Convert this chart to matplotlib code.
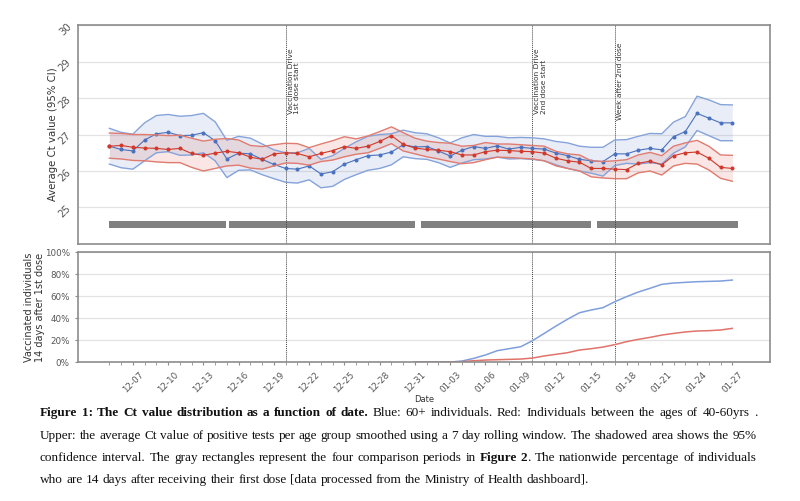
import numpy as np
import pandas as pd
import matplotlib
matplotlib.use("Agg")
import matplotlib.pyplot as plt
import matplotlib.dates as mdates
from matplotlib.ticker import PercentFormatter

# daily smoothed Ct values, 60+ (blue) and 40-60 (red)
dates = pd.date_range("2020-12-05", "2021-01-27", freq="D")

old_mean = [26.68, 26.59, 26.55, 26.85, 27.02, 27.06, 26.97, 26.98, 27.05, 26.83,
            26.33, 26.49, 26.47, 26.32, 26.18, 26.07, 26.05, 26.14, 25.92, 25.98,
            26.19, 26.31, 26.42, 26.44, 26.52, 26.72, 26.66, 26.67, 26.55, 26.41,
            26.57, 26.67, 26.62, 26.69, 26.60, 26.65, 26.62, 26.60, 26.49, 26.42,
            26.32, 26.28, 26.26, 26.47, 26.47, 26.57, 26.62, 26.58, 26.94, 27.08,
            27.58, 27.45, 27.32, 27.32]
old_hi = [27.17, 27.06, 27.01, 27.32, 27.52, 27.55, 27.50, 27.52, 27.58, 27.35,
          26.84, 26.95, 26.90, 26.74, 26.58, 26.50, 26.50, 26.62, 26.32, 26.42,
          26.62, 26.80, 26.95, 27.00, 27.02, 27.12, 27.05, 27.02, 26.91, 26.77,
          26.91, 27.00, 26.95, 26.95, 26.91, 26.92, 26.91, 26.88, 26.81, 26.77,
          26.68, 26.65, 26.65, 26.85, 26.86, 26.95, 27.03, 27.02, 27.34, 27.49,
          28.05, 27.95, 27.82, 27.81]
old_lo = [26.19, 26.09, 26.05, 26.28, 26.50, 26.53, 26.43, 26.44, 26.50, 26.28,
          25.82, 26.02, 26.03, 25.90, 25.79, 25.69, 25.67, 25.76, 25.54, 25.58,
          25.77, 25.90, 26.02, 26.07, 26.17, 26.39, 26.34, 26.32, 26.23, 26.10,
          26.22, 26.31, 26.33, 26.38, 26.33, 26.34, 26.32, 26.28, 26.17, 26.07,
          26.00, 25.94, 25.86, 26.15, 26.21, 26.19, 26.23, 26.19, 26.49, 26.66,
          27.11, 26.97, 26.83, 26.83]

mid_mean = [26.68, 26.70, 26.65, 26.63, 26.62, 26.59, 26.62, 26.48, 26.43, 26.49,
            26.54, 26.50, 26.38, 26.32, 26.47, 26.50, 26.48, 26.39, 26.48, 26.56,
            26.67, 26.62, 26.68, 26.81, 26.97, 26.73, 26.63, 26.59, 26.57, 26.53,
            26.44, 26.44, 26.53, 26.57, 26.56, 26.54, 26.53, 26.49, 26.35, 26.28,
            26.24, 26.07, 26.07, 26.05, 26.04, 26.21, 26.27, 26.17, 26.42, 26.50,
            26.52, 26.35, 26.10, 26.07]
mid_hi = [27.04, 27.03, 27.00, 27.00, 26.99, 26.97, 26.98, 26.90, 26.82, 26.87,
          26.89, 26.85, 26.70, 26.67, 26.72, 26.76, 26.75, 26.64, 26.74, 26.83,
          26.94, 26.88, 26.96, 27.08, 27.21, 27.05, 26.90, 26.82, 26.78, 26.76,
          26.68, 26.70, 26.78, 26.74, 26.74, 26.72, 26.70, 26.68, 26.54, 26.47,
          26.44, 26.28, 26.26, 26.28, 26.31, 26.44, 26.51, 26.42, 26.68, 26.77,
          26.84, 26.68, 26.44, 26.43]
mid_lo = [26.35, 26.33, 26.29, 26.28, 26.25, 26.23, 26.23, 26.10, 26.00, 26.07,
          26.14, 26.16, 26.08, 26.05, 26.14, 26.22, 26.21, 26.16, 26.26, 26.30,
          26.39, 26.46, 26.50, 26.62, 26.75, 26.55, 26.47, 26.39, 26.33, 26.26,
          26.20, 26.23, 26.31, 26.38, 26.37, 26.35, 26.33, 26.28, 26.14, 26.07,
          26.00, 25.84, 25.81, 25.79, 25.79, 25.95, 26.00, 25.89, 26.14, 26.21,
          26.19, 26.03, 25.80, 25.72]

# % vaccinated 14 days after 1st dose
vacc_dates = pd.date_range("2020-12-31", "2021-01-27", freq="D")
vacc_old = [0, 0, 0, 0, 0.9, 3.3, 6.4, 10.3, 12.1, 13.9, 19.4, 26.0, 32.7, 39.0,
            44.8, 47.3, 49.4, 54.8, 59.4, 63.6, 67.0, 70.6, 71.8, 72.4, 73.0, 73.3,
            73.6, 74.5]
vacc_mid = [0, 0, 0, 0, 0.3, 1.2, 1.8, 2.1, 2.4, 2.7, 3.6, 5.5, 7.0, 8.5, 10.9,
            12.1, 13.6, 15.8, 18.5, 20.6, 22.4, 24.5, 26.0, 27.3, 28.2, 28.5, 29.1,
            30.6]

# comparison periods (gray rectangles)
period_start = ["2020-12-05 00:00", "2020-12-15 05:00", "2020-12-31 12:00", "2021-01-15 12:00"]
period_end = ["2020-12-14 22:00", "2020-12-31 00:00", "2021-01-15 00:00", "2021-01-27 12:00"]

events = ["2020-12-20", "2021-01-10", "2021-01-17"]
event_labels = ["Vaccination Drive\n1st dose start", "Vaccination Drive\n2nd dose start",
                "Week after 2nd dose"]

BLUE = "#4a72bf"
RED = "#d0392b"
GRAY_TXT = "#555555"
SPINE = "#8c8c8c"

fig = plt.figure(figsize=(8, 5.01), dpi=100)
ax = fig.add_axes([0.0975, 0.513, 0.865, 0.437])
ax2 = fig.add_axes([0.0975, 0.2774, 0.865, 0.2196], sharex=ax)

# --- upper panel ---
for mean, hi, lo, c, ec in [(old_mean, old_hi, old_lo, BLUE, "#85a3db"),
                            (mid_mean, mid_hi, mid_lo, RED, "#e07b70")]:
    ax.fill_between(dates, lo, hi, color=c, alpha=0.12, lw=0)
    ax.plot(dates, hi, color=ec, lw=1)
    ax.plot(dates, lo, color=ec, lw=1)
    ax.plot(dates, mean, color=c, lw=0.8, marker="o", ms=1.9)

for s, e in zip(period_start, period_end):
    s, e = pd.Timestamp(s), pd.Timestamp(e)
    ax.fill_between([s, e], 24.43, 24.64, color="#808080", lw=0)

for d, lab in zip(events, event_labels):
    d = pd.Timestamp(d)
    for a in (ax, ax2):
        a.axvline(d, color="#444444", lw=0.7, ls=(0, (1, 1)), zorder=1)
    ax.text(d + pd.Timedelta(hours=4), 28.47, lab, rotation=90, fontsize=5.4,
            color="#333333", ha="left", va="center", linespacing=1.1)

ax.set_ylim(24, 30)
ax.set_yticks([25, 26, 27, 28, 29, 30])
ax.set_ylabel("Average Ct value (95% CI)", fontsize=7.3, color="#333333")
ax.tick_params(axis="y", labelsize=7.3, labelcolor=GRAY_TXT, length=0, rotation=45)
ax.tick_params(axis="x", which="both", bottom=False, labelbottom=False)

# --- lower panel ---
ax2.plot(vacc_dates, vacc_old, color="#7f9fdc", lw=1.1)
ax2.plot(vacc_dates, vacc_mid, color="#e0736a", lw=1.1)
ax2.set_ylim(0, 100)
ax2.set_yticks([0, 20, 40, 60, 80, 100])
ax2.yaxis.set_major_formatter(PercentFormatter(decimals=0))
ax2.set_ylabel("Vaccinated individuals\n14 days after 1st dose", fontsize=7, color="#333333")
ax2.set_xlabel("Date", fontsize=6, color="#333333", labelpad=0)
ax2.tick_params(axis="y", labelsize=6.3, labelcolor=GRAY_TXT, length=2.5, color=SPINE)
ax2.set_xticks(pd.date_range("2020-12-07", "2021-01-27", freq="3D"))
ax2.set_xticks(dates, minor=True)
ax2.xaxis.set_major_formatter(mdates.DateFormatter("%m-%d"))
ax2.tick_params(axis="x", which="both", length=2.5, color=SPINE, labelsize=6.3,
                labelcolor=GRAY_TXT, rotation=45)
ax2.set_xlim(pd.Timestamp("2020-12-02 08:00"), pd.Timestamp("2021-01-30 05:00"))

for a in (ax, ax2):
    a.grid(axis="y", color="#e3e3e3", lw=0.9)
    a.set_axisbelow(True)
    for sp in a.spines.values():
        sp.set_color(SPINE)
        sp.set_linewidth(1.2)
ax.yaxis.set_label_coords(-0.029, 0.5)
ax2.yaxis.set_label_coords(-0.047, 0.5)

# --- caption ---
caption = [
    [("Figure 1: The Ct value distribution as a function of date.", "bold"),
     (" Blue: 60+ individuals. Red: Individuals between the ages of 40-60yrs .", "normal")],
    [("Upper: the average Ct value of positive tests per age group smoothed using a 7 day "
      "rolling window. The shadowed area shows the 95%", "normal")],
    [("confidence interval. The gray rectangles represent the four comparison periods in", "normal"),
     (" Figure 2", "bold"),
     (". The nationwide percentage of individuals", "normal")],
    [("who are 14 days after receiving their first dose [data processed from the Ministry "
      "of Health dashboard].", "normal")],
]
cap_y = [413, 436, 458, 480]
cap_left, cap_right = 40, 757
cap_font = dict(family="Liberation Serif", size=9.5, color="#111111")

renderer = fig.canvas.get_renderer()


def text_width(s, weight):
    t = fig.text(0, 0, s, fontweight=weight, **cap_font)
    w = t.get_window_extent(renderer).width
    t.remove()
    return w


space_w = text_width("a a", "normal") - text_width("aa", "normal")

for n, (segs, ypx) in enumerate(zip(caption, cap_y)):
    units = []  # each unit: list of (piece, weight), units separated by spaces
    for text, weight in segs:
        parts = text.split(" ")
        for k, p in enumerate(parts):
            if p == "":
                continue
            if k == 0 and units and not text.startswith(" "):
                units[-1].append((p, weight))
            else:
                units.append([(p, weight)])
    widths = [[text_width(p, w) for p, w in u] for u in units]
    total = sum(sum(w) for w in widths)
    justify = n < len(caption) - 1
    gap = (cap_right - cap_left - total) / (len(units) - 1) if justify else space_w
    x = cap_left
    for u, ws in zip(units, widths):
        for (p, w), pw in zip(u, ws):
            fig.text(x / 800, 1 - ypx / 501, p, fontweight=w, va="center", ha="left", **cap_font)
            x += pw
        x += gap

fig.savefig("out.png", dpi=100, facecolor="white")
